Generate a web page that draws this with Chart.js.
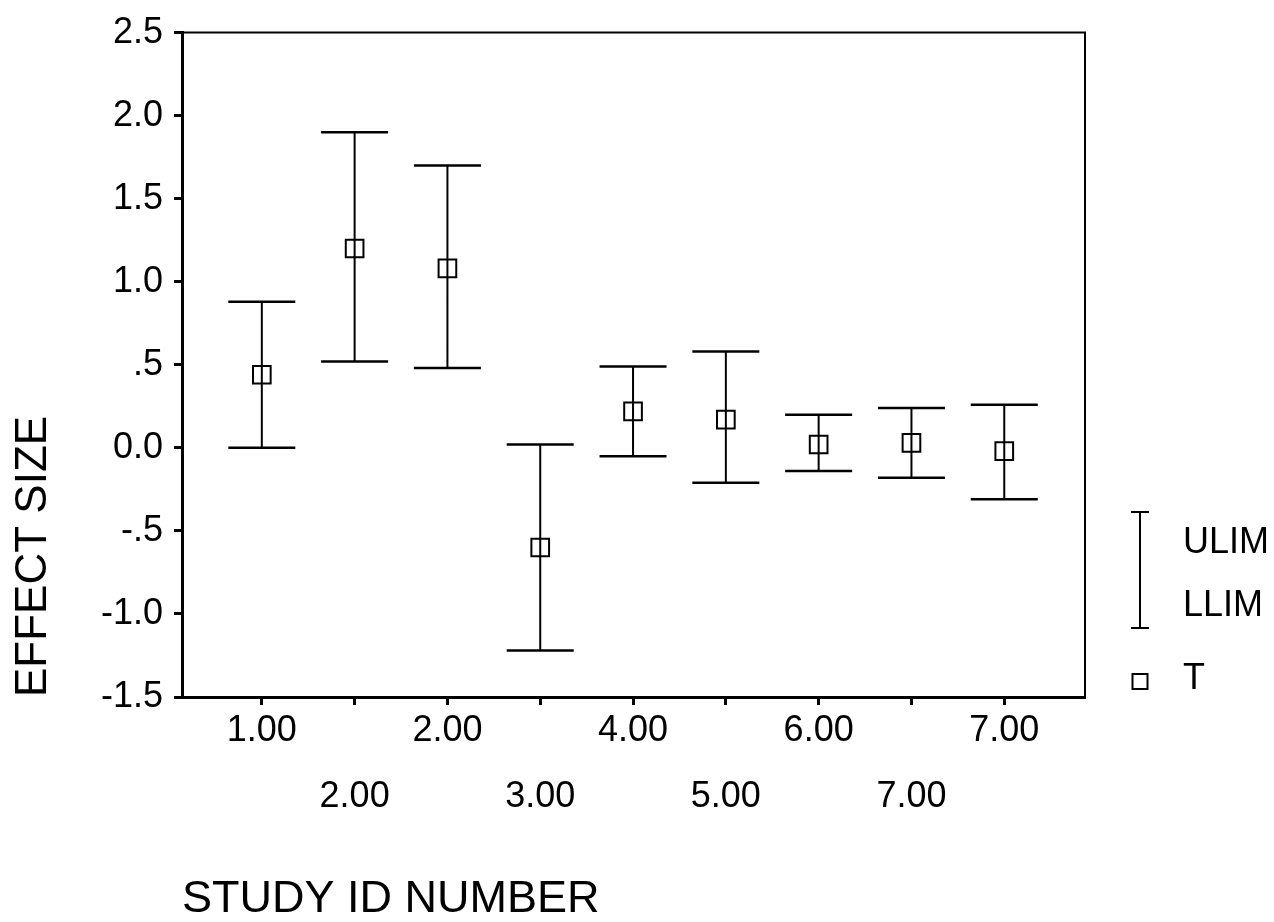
<!DOCTYPE html>
<html>
<head>
<meta charset="utf-8">
<script src="https://cdn.jsdelivr.net/npm/chart.js@4.4.1/dist/chart.umd.min.js"></script>
<style>
  body { margin: 0; background: #fff; }
  canvas { display: block; }
</style>
</head>
<body>
<canvas id="chart" width="1274" height="922"></canvas>
<script>
// study positions on the x axis and their (SPSS-style) labels
const studyPos = [1, 2, 3, 4, 5, 6, 7, 8, 9];
const xTickLabels = ['1.00', '2.00', '2.00', '3.00', '4.00', '5.00', '6.00', '7.00', '7.00'];

// effect sizes with upper / lower limits
const tValues = [0.44, 1.20, 1.08, -0.60, 0.22, 0.17, 0.02, 0.03, -0.02];
const ulimValues = [0.88, 1.90, 1.70, 0.02, 0.49, 0.58, 0.20, 0.24, 0.26];
const llimValues = [0.00, 0.52, 0.48, -1.22, -0.05, -0.21, -0.14, -0.18, -0.31];

const yTickValues = [-1.5, -1.0, -0.5, 0.0, 0.5, 1.0, 1.5, 2.0, 2.5];
const yTickLabels = ['-1.5', '-1.0', '-.5', '0.0', '.5', '1.0', '1.5', '2.0', '2.5'];

const FONT = '"Liberation Sans", Arial, Helvetica, sans-serif';

// vertical whisker lines, broken by null points between studies
const whiskers = [];
studyPos.forEach((x, i) => {
  whiskers.push({ x: x, y: llimValues[i] });
  whiskers.push({ x: x, y: ulimValues[i] });
  whiskers.push({ x: x, y: null });
});

const framePlugin = {
  id: 'frame',
  afterDraw(chart) {
    const { ctx, chartArea } = chart;
    ctx.save();
    ctx.strokeStyle = '#000';
    ctx.lineWidth = 2;
    ctx.beginPath();
    ctx.moveTo(chartArea.left, chartArea.top);
    ctx.lineTo(chartArea.right, chartArea.top);
    ctx.lineTo(chartArea.right, chartArea.bottom);
    ctx.stroke();
    ctx.restore();
  }
};

const legendPlugin = {
  id: 'sideLegend',
  afterDraw(chart) {
    const { ctx, chartArea } = chart;
    const sx = chartArea.right + 55;
    const tx = chartArea.right + 98;
    ctx.save();
    ctx.strokeStyle = '#000';
    ctx.fillStyle = '#000';
    ctx.lineWidth = 2;
    // error bar symbol
    ctx.beginPath();
    ctx.moveTo(sx, 512); ctx.lineTo(sx, 628);
    ctx.moveTo(sx - 9, 512); ctx.lineTo(sx + 9, 512);
    ctx.moveTo(sx - 9, 628); ctx.lineTo(sx + 9, 628);
    ctx.stroke();
    // square symbol
    ctx.strokeRect(sx - 7.5, 674, 15, 15);
    ctx.font = '36px ' + FONT;
    ctx.textBaseline = 'middle';
    ctx.textAlign = 'left';
    ctx.fillText('ULIM', tx, 543);
    ctx.fillText('LLIM', tx, 606);
    ctx.fillText('T', tx, 679);
    ctx.restore();
  }
};

new Chart(document.getElementById('chart'), {
  type: 'scatter',
  data: {
    datasets: [
      {
        label: 'whisker',
        data: whiskers,
        showLine: true,
        spanGaps: false,
        borderColor: '#000',
        borderWidth: 2,
        pointRadius: 0
      },
      {
        label: 'ULIM',
        data: studyPos.map((x, i) => ({ x: x, y: ulimValues[i] })),
        pointStyle: 'line',
        pointRadius: 33.5,
        borderColor: '#000',
        borderWidth: 2.5
      },
      {
        label: 'LLIM',
        data: studyPos.map((x, i) => ({ x: x, y: llimValues[i] })),
        pointStyle: 'line',
        pointRadius: 33.5,
        borderColor: '#000',
        borderWidth: 2.5
      },
      {
        label: 'T',
        data: studyPos.map((x, i) => ({ x: x, y: tValues[i] })),
        pointStyle: 'rect',
        pointRadius: 12.5,
        borderColor: '#000',
        backgroundColor: 'rgba(0,0,0,0)',
        borderWidth: 2
      }
    ]
  },
  options: {
    responsive: false,
    animation: false,
    layout: {
      autoPadding: false,
      padding: { top: 30, right: 189, left: 0, bottom: 0 }
    },
    plugins: {
      legend: { display: false },
      tooltip: { enabled: false }
    },
    scales: {
      x: {
        type: 'linear',
        min: 0.14,
        max: 9.87,
        afterBuildTicks: (scale) => {
          scale.ticks = studyPos.map(v => ({ value: v }));
        },
        afterFit: (scale) => { scale.height = 225; },
        grid: {
          drawOnChartArea: false,
          drawTicks: true,
          tickLength: 8,
          tickWidth: 3,
          tickColor: '#000'
        },
        border: { color: '#000', width: 3 },
        ticks: {
          autoSkip: false,
          maxRotation: 0,
          color: '#000',
          padding: -7,
          font: { family: FONT, size: 36, lineHeight: 1.83 },
          callback: (value, index) => {
            const label = xTickLabels[index];
            return index % 2 === 0 ? [label] : ['', label];
          }
        },
        title: {
          display: true,
          text: 'STUDY ID NUMBER',
          align: 'start',
          color: '#000',
          font: { family: FONT, size: 45, lineHeight: 1 },
          padding: { top: 0, bottom: 0 }
        }
      },
      y: {
        min: -1.5,
        max: 2.5,
        afterBuildTicks: (scale) => {
          scale.ticks = yTickValues.map(v => ({ value: v }));
        },
        afterFit: (scale) => { scale.width = 182; },
        grid: {
          drawOnChartArea: false,
          drawTicks: true,
          tickLength: 8,
          tickWidth: 3,
          tickColor: '#000'
        },
        border: { color: '#000', width: 3 },
        ticks: {
          color: '#000',
          padding: 11,
          font: { family: FONT, size: 36 },
          callback: (value) => {
            const i = yTickValues.findIndex(v => Math.abs(v - value) < 1e-9);
            return i >= 0 ? yTickLabels[i] : '';
          }
        },
        title: {
          display: true,
          text: 'EFFECT SIZE',
          align: 'start',
          color: '#000',
          font: { family: FONT, size: 44, lineHeight: 1.2 },
          padding: { top: 7, bottom: 0 }
        }
      }
    }
  },
  plugins: [framePlugin, legendPlugin]
});
</script>
</body>
</html>
